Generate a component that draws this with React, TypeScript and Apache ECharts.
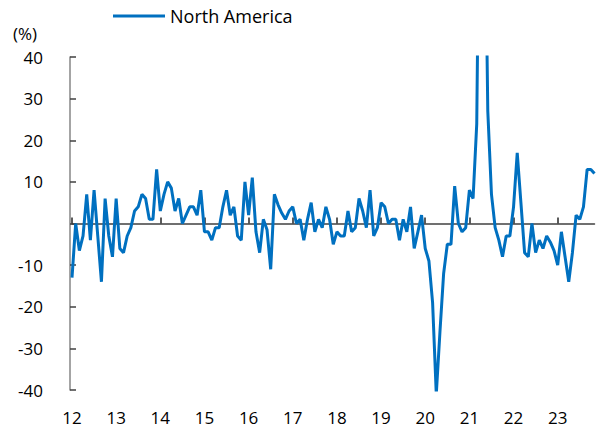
import React, { useEffect, useRef } from "react";
import * as echarts from "echarts";

const seriesName = "North America";
const yearLabels = ["12", "13", "14", "15", "16", "17", "18", "19", "20", "21", "22", "23"];
const unitLabel = "(%)";

// Monthly YoY (%) from Jan 2012 to Nov 2023
const values2012 = [-13, 0, -6.5, -3, 7, -4, 8, -3, -14, 6, -3, -8];
const values2013 = [6, -6, -7, -3, -1, 3, 4, 7, 6, 1, 1, 13];
const values2014 = [3, 7, 10, 8.5, 3, 6, 0, 2, 4, 4, 2, 8];
const values2015 = [-2, -2, -4, -1, -1, 4, 8, 2, 4, -3, -4, 10];
const values2016 = [2, 11, -2, -7, 1, -1.5, -11, 7, 4.5, 2.5, 1, 3];
const values2017 = [4, 0, 1, -4, 1, 5, -2, 1, -1, 4, 1, -5];
const values2018 = [-2, -3, -3, 3, -2, -1, 6, 3, -1, 8, -3, -1];
const values2019 = [5, 4, 0, 1, 1, -4, 1, -2, 4, -6, -2, 2];
const values2020 = [-6, -9, -19, -41, -26, -12, -5, -5, 9, 0, -2, -1];
const values2021 = [8, 6, 24, 110, 95, 27, 7, -1, -4, -8, -3, -3];
const values2022 = [4, 17, 5, -7, -8, 0, -7, -4, -6, -3, -4.5, -6.5];
const values2023 = [-10, -2, -8, -14, -7, 2, 1, 4, 13, 13, 12];

const seriesValues = [
  ...values2012, ...values2013, ...values2014, ...values2015,
  ...values2016, ...values2017, ...values2018, ...values2019,
  ...values2020, ...values2021, ...values2022, ...values2023,
];

const categories: string[] = [];
yearLabels.forEach((y) => {
  for (let m = 1; m <= 12; m++) categories.push(`20${y}-${m < 10 ? "0" + m : m}`);
});
const months = categories.slice(0, seriesValues.length);

const FONT = "'Open Sans', sans-serif";
const yearTick = (index: number) => index % 12 === 0;

export default function App() {
  const ref = useRef<HTMLDivElement>(null);
  useEffect(() => {
    if (!ref.current) return;
    const chart = echarts.init(ref.current, null, { renderer: "svg" });
    chart.setOption({
      animation: false,
      backgroundColor: "#ffffff",
      textStyle: { fontFamily: FONT },
      legend: {
        data: [seriesName],
        left: 113,
        top: 7,
        padding: 0,
        icon: "rect",
        itemWidth: 52,
        itemHeight: 3,
        textStyle: { fontFamily: FONT, fontSize: 18, color: "#000000" },
      },
      graphic: [
        {
          type: "text",
          left: 13,
          top: 25,
          style: { text: unitLabel, fontFamily: FONT, fontSize: 17, fill: "#000000" },
        },
      ],
      grid: { left: 72, right: 4.5, top: 57, bottom: 42, containLabel: false },
      xAxis: [
        {
          type: "category",
          data: months,
          boundaryGap: false,
          position: "bottom",
          axisLine: { show: false, onZero: false },
          axisTick: { show: false },
          axisLabel: {
            interval: yearTick,
            margin: 19,
            fontFamily: FONT,
            fontSize: 17,
            color: "#000000",
            formatter: (_v: string, idx: number) => yearLabels[Math.floor(idx / 12)] ?? "",
          },
          splitLine: { show: false },
        },
        {
          type: "category",
          data: months,
          boundaryGap: false,
          position: "top",
          axisLine: { show: true, onZero: true, lineStyle: { color: "#404040", width: 1.5 } },
          axisTick: { show: true, inside: false, length: 6, interval: yearTick, lineStyle: { color: "#262626", width: 1.5 } },
          axisLabel: { show: false },
          splitLine: { show: false },
        },
      ],
      yAxis: {
        type: "value",
        min: -40,
        max: 40,
        interval: 10,
        offset: 2,
        axisLine: { show: true, lineStyle: { color: "#868686", width: 1.5 } },
        axisTick: { show: true, inside: true, length: 6, lineStyle: { color: "#404040", width: 1.5 } },
        axisLabel: {
          margin: 27,
          fontFamily: FONT,
          fontSize: 17,
          color: "#000000",
          formatter: (v: number) => (v === 0 ? "" : String(v)),
        },
        splitLine: { show: false },
      },
      series: [
        {
          name: seriesName,
          type: "line",
          xAxisIndex: 0,
          data: seriesValues,
          showSymbol: false,
          symbol: "none",
          clip: true,
          lineStyle: { color: "#0070C0", width: 3 },
          itemStyle: { color: "#0070C0" },
        },
      ],
    });
    return () => chart.dispose();
  }, []);
  return <div ref={ref} style={{ position: "fixed", left: 0, top: 0, width: 599, height: 432 }} />;
}
